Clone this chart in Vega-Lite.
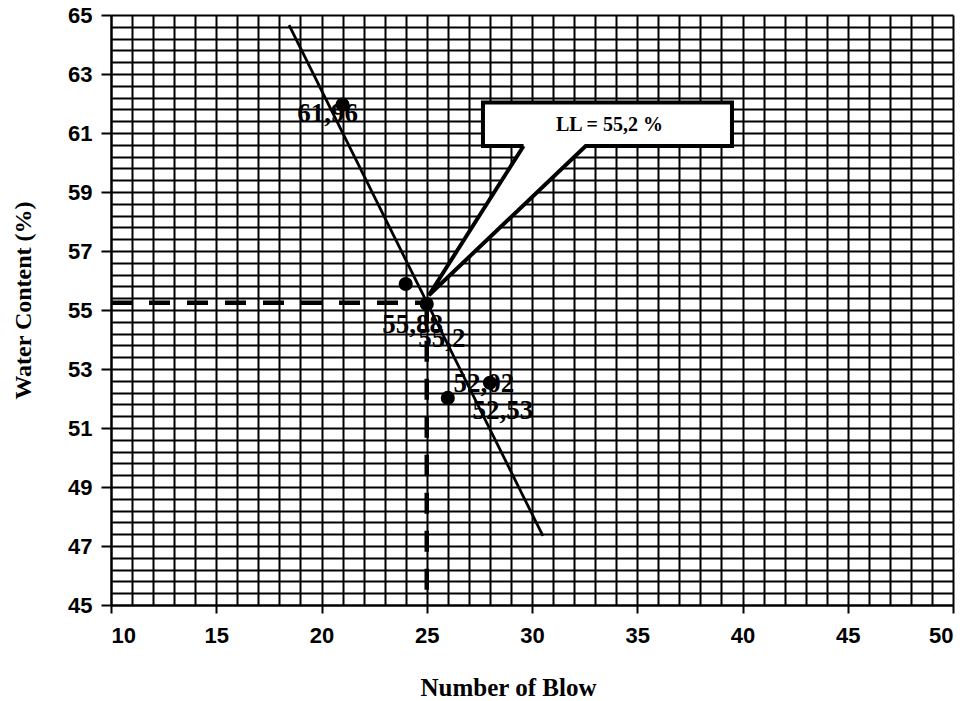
{
  "$schema": "https://vega.github.io/schema/vega-lite/v6.json",
  "width": 842,
  "height": 590,
  "autosize": {"type": "none"},
  "padding": {"left": 111, "top": 15, "right": 12, "bottom": 96},
  "background": "white",
  "config": {"view": {"stroke": null}},
  "datasets": {
    "points": [
      {"x": 21, "y": 61.96, "label": "61,96"},
      {"x": 24, "y": 55.88, "label": "55,88"},
      {"x": 25, "y": 55.2, "label": "55,2"},
      {"x": 26, "y": 52.02, "label": "52,02"},
      {"x": 28, "y": 52.53, "label": "52,53"}
    ],
    "trend": [
      {"x": 18.46, "y": 64.66},
      {"x": 30.52, "y": 47.34}
    ],
    "dashes": [
      {"x": 10, "y": 55.25, "seg": "h", "o": 1},
      {"x": 25, "y": 55.25, "seg": "h", "o": 2},
      {"x": 25, "y": 55.25, "seg": "v", "o": 1},
      {"x": 25, "y": 45, "seg": "v", "o": 2}
    ],
    "box": [
      {"x": 27.67, "x2": 39.5, "y": 60.56, "y2": 62.03}
    ],
    "pointer": [
      {"x": 25.1, "y": 55.5, "y2": 55.5},
      {"x": 29.6, "y": 58.556, "y2": 60.56},
      {"x": 32.55, "y": 60.56, "y2": 60.56}
    ],
    "outline": [
      {"o": 1, "x": 29.6, "y": 60.56},
      {"o": 2, "x": 27.67, "y": 60.56},
      {"o": 3, "x": 27.67, "y": 62.03},
      {"o": 4, "x": 39.5, "y": 62.03},
      {"o": 5, "x": 39.5, "y": 60.56},
      {"o": 6, "x": 32.55, "y": 60.56},
      {"o": 7, "x": 25.1, "y": 55.5},
      {"o": 8, "x": 29.6, "y": 60.56}
    ],
    "note": [
      {"x": 33.68, "y": 61.27, "text": "LL = 55,2 %"}
    ]
  },
  "resolve": {"axis": {"x": "independent", "y": "independent"}},
  "layer": [
    {
      "data": {"name": "points"},
      "mark": {"type": "point", "opacity": 0},
      "encoding": {
        "x": {"field": "x", "type": "quantitative",
          "scale": {"domain": [10, 50], "nice": false, "zero": false},
          "axis": {"orient": "bottom", "values": [10,11,12,13,14,15,16,17,18,19,20,21,22,23,24,25,26,27,28,29,30,31,32,33,34,35,36,37,38,39,40,41,42,43,44,45,46,47,48,49,50],
            "grid": true, "gridColor": "black", "gridWidth": 2, "gridOpacity": 1,
            "labels": false, "ticks": false, "domain": false, "title": null}},
        "y": {"field": "y", "type": "quantitative",
          "scale": {"domain": [45, 65], "nice": false, "zero": false},
          "axis": {"orient": "left", "values": [45,45.4,45.8,46.2,46.6,47,47.4,47.8,48.2,48.6,49,49.4,49.8,50.2,50.6,51,51.4,51.8,52.2,52.6,53,53.4,53.8,54.2,54.6,55,55.4,55.8,56.2,56.6,57,57.4,57.8,58.2,58.6,59,59.4,59.8,60.2,60.6,61,61.4,61.8,62.2,62.6,63,63.4,63.8,64.2,64.6,65],
            "grid": true, "gridColor": "black", "gridWidth": 2, "gridOpacity": 1,
            "labels": false, "ticks": false, "domain": false, "title": null}}
      }
    },
    {
      "data": {"name": "points"},
      "mark": {"type": "circle", "color": "black", "opacity": 1, "size": 200},
      "encoding": {
        "x": {"field": "x", "type": "quantitative",
          "scale": {"domain": [10, 50], "nice": false, "zero": false},
          "axis": {"orient": "bottom", "values": [10, 15, 20, 25, 30, 35, 40, 45, 50],
            "grid": false, "domain": true, "domainColor": "black", "domainWidth": 2,
            "ticks": true, "tickSize": 8, "tickColor": "black", "tickWidth": 2,
            "labelFont": "Liberation Sans", "labelFontWeight": "bold", "labelFontSize": 22,
            "labelColor": "black", "labelPadding": 12,
            "title": "Number of Blow", "titleFont": "Liberation Serif", "titleFontWeight": "bold",
            "titleFontSize": 25, "titleColor": "black", "titleX": 397, "titleY": 82,
            "titleBaseline": "middle", "titleAlign": "center"}},
        "y": {"field": "y", "type": "quantitative",
          "scale": {"domain": [45, 65], "nice": false, "zero": false},
          "axis": {"orient": "left", "values": [45, 47, 49, 51, 53, 55, 57, 59, 61, 63, 65],
            "grid": false, "domain": true, "domainColor": "black", "domainWidth": 2,
            "ticks": true, "tickSize": 10, "tickColor": "black", "tickWidth": 2,
            "labelFont": "Liberation Sans", "labelFontWeight": "bold", "labelFontSize": 22,
            "labelColor": "black", "labelPadding": 9,
            "title": "Water Content (%)", "titleFont": "Liberation Serif", "titleFontWeight": "bold",
            "titleFontSize": 24, "titleColor": "black", "titleX": -88, "titleY": 285,
            "titleBaseline": "middle", "titleAlign": "center", "titleAngle": -90}}
      }
    },
    {
      "data": {"name": "points"},
      "transform": [{"filter": "datum.label === '61,96'"}],
      "mark": {"type": "text", "font": "Liberation Serif", "fontWeight": "bold", "fontSize": 27, "color": "black", "align": "center", "baseline": "middle", "dx": -15, "dy": 9},
      "encoding": {
        "x": {"field": "x", "type": "quantitative", "scale": {"domain": [10, 50], "nice": false, "zero": false}, "axis": null},
        "y": {"field": "y", "type": "quantitative", "scale": {"domain": [45, 65], "nice": false, "zero": false}, "axis": null},
        "text": {"field": "label"}
      }
    },
    {
      "data": {"name": "points"},
      "transform": [{"filter": "datum.label === '55,88'"}],
      "mark": {"type": "text", "font": "Liberation Serif", "fontWeight": "bold", "fontSize": 27, "color": "black", "align": "center", "baseline": "middle", "dx": 7, "dy": 41},
      "encoding": {
        "x": {"field": "x", "type": "quantitative", "scale": {"domain": [10, 50], "nice": false, "zero": false}, "axis": null},
        "y": {"field": "y", "type": "quantitative", "scale": {"domain": [45, 65], "nice": false, "zero": false}, "axis": null},
        "text": {"field": "label"}
      }
    },
    {
      "data": {"name": "points"},
      "transform": [{"filter": "datum.label === '55,2'"}],
      "mark": {"type": "text", "font": "Liberation Serif", "fontWeight": "bold", "fontSize": 27, "color": "black", "align": "center", "baseline": "middle", "dx": 15, "dy": 35},
      "encoding": {
        "x": {"field": "x", "type": "quantitative", "scale": {"domain": [10, 50], "nice": false, "zero": false}, "axis": null},
        "y": {"field": "y", "type": "quantitative", "scale": {"domain": [45, 65], "nice": false, "zero": false}, "axis": null},
        "text": {"field": "label"}
      }
    },
    {
      "data": {"name": "points"},
      "transform": [{"filter": "datum.label === '52,02'"}],
      "mark": {"type": "text", "font": "Liberation Serif", "fontWeight": "bold", "fontSize": 27, "color": "black", "align": "center", "baseline": "middle", "dx": 36, "dy": -14},
      "encoding": {
        "x": {"field": "x", "type": "quantitative", "scale": {"domain": [10, 50], "nice": false, "zero": false}, "axis": null},
        "y": {"field": "y", "type": "quantitative", "scale": {"domain": [45, 65], "nice": false, "zero": false}, "axis": null},
        "text": {"field": "label"}
      }
    },
    {
      "data": {"name": "points"},
      "transform": [{"filter": "datum.label === '52,53'"}],
      "mark": {"type": "text", "font": "Liberation Serif", "fontWeight": "bold", "fontSize": 27, "color": "black", "align": "center", "baseline": "middle", "dx": 13, "dy": 28},
      "encoding": {
        "x": {"field": "x", "type": "quantitative", "scale": {"domain": [10, 50], "nice": false, "zero": false}, "axis": null},
        "y": {"field": "y", "type": "quantitative", "scale": {"domain": [45, 65], "nice": false, "zero": false}, "axis": null},
        "text": {"field": "label"}
      }
    },
    {
      "data": {"name": "trend"},
      "mark": {"type": "line", "color": "black", "strokeWidth": 2.8},
      "encoding": {
        "x": {"field": "x", "type": "quantitative", "scale": {"domain": [10, 50], "nice": false, "zero": false}, "axis": null},
        "y": {"field": "y", "type": "quantitative", "scale": {"domain": [45, 65], "nice": false, "zero": false}, "axis": null}
      }
    },
    {
      "data": {"name": "dashes"},
      "mark": {"type": "line", "color": "black", "strokeWidth": 4.5, "strokeDash": [21, 17], "strokeCap": "butt"},
      "encoding": {
        "x": {"field": "x", "type": "quantitative", "scale": {"domain": [10, 50], "nice": false, "zero": false}, "axis": null},
        "y": {"field": "y", "type": "quantitative", "scale": {"domain": [45, 65], "nice": false, "zero": false}, "axis": null},
        "detail": {"field": "seg"},
        "order": {"field": "o", "type": "quantitative"}
      }
    },
    {
      "data": {"name": "box"},
      "mark": {"type": "rect", "fill": "white", "stroke": null},
      "encoding": {
        "x": {"field": "x", "type": "quantitative", "scale": {"domain": [10, 50], "nice": false, "zero": false}, "axis": null},
        "x2": {"field": "x2"},
        "y": {"field": "y", "type": "quantitative", "scale": {"domain": [45, 65], "nice": false, "zero": false}, "axis": null},
        "y2": {"field": "y2"}
      }
    },
    {
      "data": {"name": "pointer"},
      "mark": {"type": "area", "fill": "white", "opacity": 1, "stroke": null},
      "encoding": {
        "x": {"field": "x", "type": "quantitative", "scale": {"domain": [10, 50], "nice": false, "zero": false}, "axis": null},
        "y": {"field": "y", "type": "quantitative", "scale": {"domain": [45, 65], "nice": false, "zero": false}, "axis": null},
        "y2": {"field": "y2"}
      }
    },
    {
      "data": {"name": "outline"},
      "mark": {"type": "line", "color": "black", "strokeWidth": 4, "strokeJoin": "miter"},
      "encoding": {
        "x": {"field": "x", "type": "quantitative", "scale": {"domain": [10, 50], "nice": false, "zero": false}, "axis": null},
        "y": {"field": "y", "type": "quantitative", "scale": {"domain": [45, 65], "nice": false, "zero": false}, "axis": null},
        "order": {"field": "o", "type": "quantitative"}
      }
    },
    {
      "data": {"name": "note"},
      "mark": {"type": "text", "font": "Liberation Serif", "fontWeight": "bold", "fontSize": 20, "color": "black", "align": "center", "baseline": "middle"},
      "encoding": {
        "x": {"field": "x", "type": "quantitative", "scale": {"domain": [10, 50], "nice": false, "zero": false}, "axis": null},
        "y": {"field": "y", "type": "quantitative", "scale": {"domain": [45, 65], "nice": false, "zero": false}, "axis": null},
        "text": {"field": "text"}
      }
    }
  ]
}
